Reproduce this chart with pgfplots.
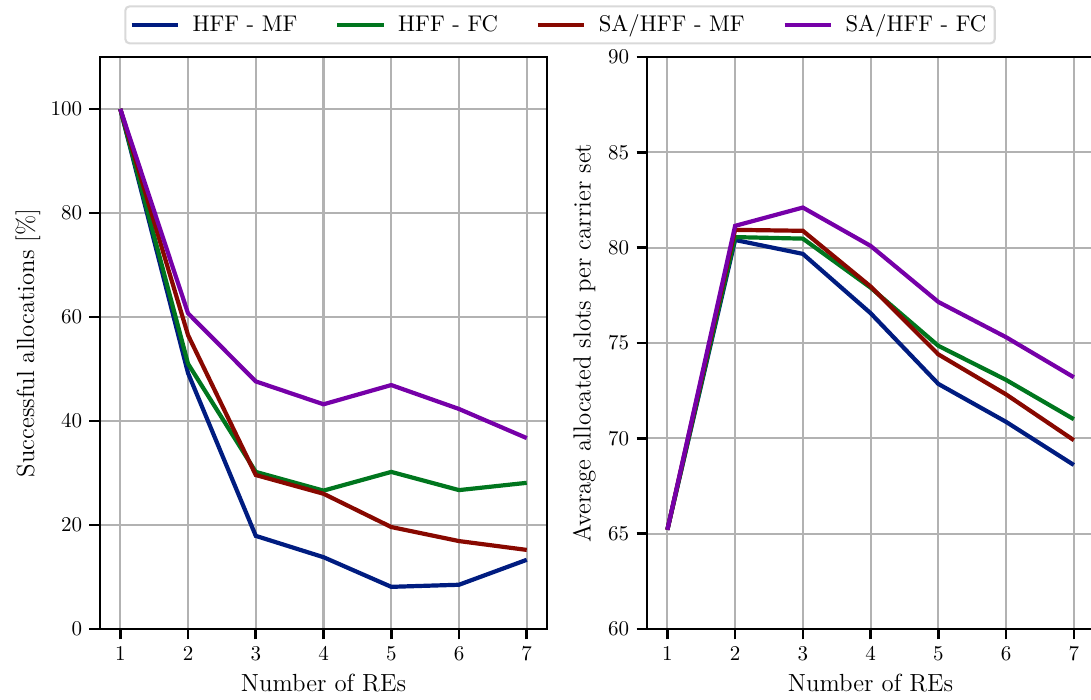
\documentclass[border=0pt]{standalone}
\usepackage{pgfplots}
\pgfplotsset{compat=1.18}
\definecolor{cblue}{RGB}{0,28,128}
\definecolor{cgreen}{RGB}{0,118,30}
\definecolor{cred}{RGB}{136,8,0}
\definecolor{cpurple}{RGB}{118,0,168}
\pgfplotsset{
  mystyle/.style={
    scale only axis,
    width=212.9pt, height=272.4pt,
    xmin=0.7, xmax=7.3,
    xtick={1,2,3,4,5,6,7},
    grid=major,
    grid style={color=black!30, line width=1pt},
    axis line style={line width=1.25pt},
    tick style={line width=1.25pt, black},
    tick align=outside,
    major tick length=5pt,
    xtick pos=bottom, ytick pos=left,
    xlabel={Number of REs},
    every axis plot/.append style={line width=2pt, mark=none},
    tick label style={font=\fontsize{10.4}{12}\selectfont},
    label style={font=\fontsize{11.8}{14}\selectfont},
    xlabel style={yshift=0.5pt},
  }
}
\begin{document}
\begin{tikzpicture}
\path[use as bounding box] (0,0) rectangle (519.5pt,333.3pt);
\begin{axis}[mystyle,
  at={(47.6pt,33.8pt)}, anchor=south west,
  ymin=0, ymax=110,
  ytick={0,20,40,60,80,100},
  ylabel={Successful allocations [\%]},
  ylabel style={yshift=-2pt},
  legend columns=4,
  legend style={at={(1.029,1.056)}, anchor=center, draw=black!15, rounded corners=2pt, line width=1pt,
    font=\fontsize{10.8}{13}\selectfont,
    /tikz/every odd column/.append style={column sep=4pt},
    /tikz/every even column/.append style={column sep=16pt}, inner sep=2pt},
  legend image code/.code={\draw[line width=2pt] (0pt,0pt) -- (22pt,0pt);},
]
\addplot[cblue] coordinates {(1,100) (2,49.2) (3,17.9) (4,13.8) (5,8.1) (6,8.5) (7,13.3)};
\addlegendentry{HFF - MF}
\addplot[cgreen] coordinates {(1,100) (2,51.0) (3,30.2) (4,26.6) (5,30.2) (6,26.7) (7,28.1)};
\addlegendentry{HFF - FC}
\addplot[cred] coordinates {(1,100) (2,56.5) (3,29.6) (4,26.0) (5,19.6) (6,16.9) (7,15.2)};
\addlegendentry{SA/HFF - MF}
\addplot[cpurple] coordinates {(1,100) (2,60.7) (3,47.6) (4,43.2) (5,46.9) (6,42.3) (7,36.7)};
\addlegendentry{SA/HFF - FC}
\end{axis}
\begin{axis}[mystyle,
  at={(308.1pt,33.8pt)}, anchor=south west,
  ymin=60, ymax=90,
  ytick={60,65,70,75,80,85,90},
  ylabel={Average allocated slots per carrier set},
  ylabel style={yshift=-1pt},
]
\addplot[cblue] coordinates {(1,65.2) (2,80.4) (3,79.67) (4,76.56) (5,72.85) (6,70.86) (7,68.6)};
\addplot[cgreen] coordinates {(1,65.2) (2,80.55) (3,80.47) (4,77.9) (5,74.85) (6,73.06) (7,71.0)};
\addplot[cred] coordinates {(1,65.2) (2,80.93) (3,80.88) (4,77.96) (5,74.4) (6,72.3) (7,69.9)};
\addplot[cpurple] coordinates {(1,65.2) (2,81.14) (3,82.1) (4,80.09) (5,77.15) (6,75.3) (7,73.2)};
\end{axis}
\end{tikzpicture}
\end{document}
